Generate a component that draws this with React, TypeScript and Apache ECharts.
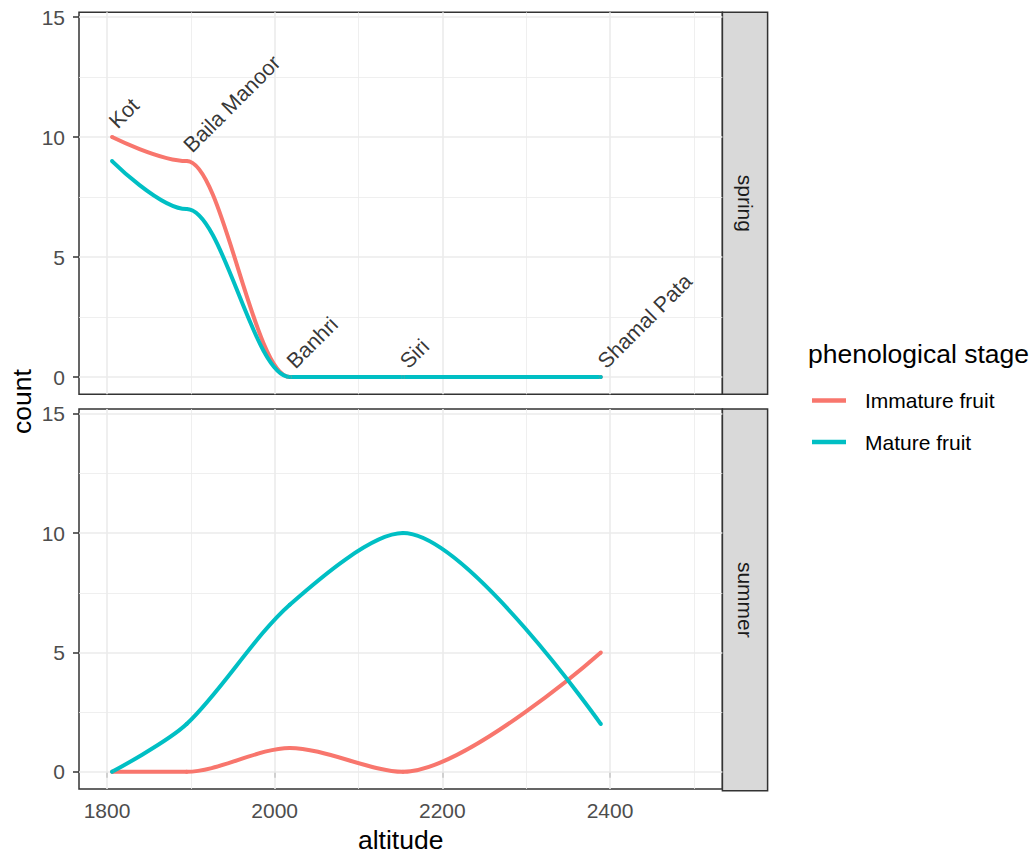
import React, { useEffect, useRef } from "react";
import * as echarts from "echarts";

const sites = ["Kot", "Baila Manoor", "Banhri", "Siri", "Shamal Pata"];
const altitude = [1806, 1895, 2018, 2153, 2389];
const springImmature = [10, 9, 0, 0, 0];
const springMature = [9, 7, 0, 0, 0];
const summerImmature = [0, 0, 1, 0, 5];
const summerMature = [0, 2, 7, 10, 2];
const xMajor = [1800, 2000, 2200, 2400];
const xMinor = [1900, 2100, 2300, 2500];
const yMajor = [0, 5, 10, 15];
const yMinor = [2.5, 7.5, 12.5];
const facets = ["spring", "summer"];
const stages = ["Immature fruit", "Mature fruit"];

const RED = "#F8766D";
const CYAN = "#00BFC4";
const FONT = "Liberation Sans, Arial, sans-serif";

const X_MIN = 1766.6;
const X_MAX = 2534;
const Y_MIN = -0.72;
const Y_MAX = 15.2;

const GRID_LEFT = 79;
const GRID_W = 643.4;
const PANELS = [
  { top: 12.3, height: 382 },
  { top: 409, height: 381.7 },
];
const STRIP_W = 45.2;

function pairs(ys: number[]) {
  return ys.map((y, i) => [altitude[i], y]);
}

function gridLines() {
  const major = { color: "#EBEBEB", width: 1.6, type: "solid" };
  const minor = { color: "#EBEBEB", width: 0.8, type: "solid" };
  return {
    silent: true,
    z: 1,
    symbol: ["none", "none"],
    label: { show: false },
    emphasis: { disabled: true },
    animation: false,
    data: [
      ...xMinor.map((v) => ({ xAxis: v, lineStyle: minor })),
      ...yMinor.map((v) => ({ yAxis: v, lineStyle: minor })),
      ...xMajor.map((v) => ({ xAxis: v, lineStyle: major })),
      ...yMajor.map((v) => ({ yAxis: v, lineStyle: major })),
    ],
  };
}

function lineSeries(
  name: string,
  color: string,
  ys: number[],
  idx: number,
  withGrid: boolean,
  smooth: number,
  monotone?: string
) {
  return {
    name,
    type: "line",
    xAxisIndex: idx,
    yAxisIndex: idx,
    data: pairs(ys),
    smooth,
    smoothMonotone: monotone,
    symbol: "circle",
    symbolSize: 4,
    showSymbol: true,
    z: 3,
    itemStyle: { color },
    lineStyle: { color, width: 4 },
    emphasis: { disabled: true },
    markLine: withGrid ? gridLines() : undefined,
  };
}

export default function App() {
  const ref = useRef<HTMLDivElement>(null);

  useEffect(() => {
    if (!ref.current) return;
    const chart = echarts.init(ref.current, null, { renderer: "svg" });

    const xAxes = PANELS.map((_, i) => ({
      type: "value",
      gridIndex: i,
      min: X_MIN,
      max: X_MAX,
      axisLine: { show: false },
      splitLine: { show: false },
      axisTick: {
        show: i === 1,
        length: 6,
        customValues: xMajor,
        lineStyle: { color: "#333333", width: 1.5 },
      },
      axisLabel: {
        show: i === 1,
        customValues: xMajor,
        formatter: (v: number) => String(v),
        margin: 11,
        fontSize: 21,
        color: "#4D4D4D",
        fontFamily: FONT,
      },
      name: i === 1 ? "altitude" : "",
      nameLocation: "middle",
      nameGap: 37,
      nameTextStyle: { fontSize: 26.5, color: "#000000", fontFamily: FONT },
    }));

    const yAxes = PANELS.map((_, i) => ({
      type: "value",
      gridIndex: i,
      min: Y_MIN,
      max: Y_MAX,
      axisLine: { show: false },
      splitLine: { show: false },
      axisTick: {
        show: true,
        length: 6,
        customValues: yMajor,
        lineStyle: { color: "#333333", width: 1.5 },
      },
      axisLabel: {
        customValues: yMajor,
        formatter: (v: number) => String(v),
        margin: 14,
        fontSize: 21,
        color: "#4D4D4D",
        fontFamily: FONT,
      },
    }));

    const grids = PANELS.map((p) => ({
      left: GRID_LEFT,
      top: p.top,
      width: GRID_W,
      height: p.height,
      show: true,
      backgroundColor: "#FFFFFF",
      borderColor: "#333333",
      borderWidth: 1.5,
      containLabel: false,
    }));

    const graphics: any[] = [];
    PANELS.forEach((p, i) => {
      graphics.push({
        type: "rect",
        shape: { x: GRID_LEFT + GRID_W, y: p.top, width: STRIP_W, height: p.height },
        style: { fill: "#D9D9D9", stroke: "#333333", lineWidth: 1.5 },
        silent: true,
      });
      graphics.push({
        type: "text",
        x: GRID_LEFT + GRID_W + STRIP_W / 2,
        y: p.top + p.height / 2,
        rotation: -Math.PI / 2,
        style: {
          text: facets[i],
          fontSize: 21,
          fill: "#1A1A1A",
          fontFamily: FONT,
          align: "center",
          verticalAlign: "middle",
        },
        silent: true,
      });
    });
    graphics.push({
      type: "text",
      x: 22,
      y: 401.5,
      rotation: Math.PI / 2,
      style: {
        text: "count",
        fontSize: 26.5,
        fill: "#000000",
        fontFamily: FONT,
        align: "center",
        verticalAlign: "middle",
      },
      silent: true,
    });
    graphics.push({
      type: "text",
      x: 808,
      y: 354,
      style: {
        text: "phenological stage",
        fontSize: 26.5,
        fill: "#000000",
        fontFamily: FONT,
        align: "left",
        verticalAlign: "middle",
      },
      silent: true,
    });

    const siteLabels = {
      type: "scatter",
      xAxisIndex: 0,
      yAxisIndex: 0,
      data: sites.map((s, i) => [altitude[i], springImmature[i], s]),
      symbolSize: 1,
      z: 4,
      itemStyle: { color: "transparent" },
      emphasis: { disabled: true },
      silent: true,
      label: {
        show: true,
        formatter: (p: any) => p.data[2],
        position: [9, -4],
        rotate: 45,
        align: "left",
        verticalAlign: "bottom",
        fontSize: 21.5,
        color: "#000000",
        fontFamily: FONT,
      },
    };

    chart.setOption({
      animation: false,
      textStyle: { fontFamily: FONT },
      grid: grids,
      xAxis: xAxes,
      yAxis: yAxes,
      legend: {
        data: stages.map((s) => ({ name: s, icon: "rect" })),
        orient: "vertical",
        left: 812,
        top: 390,
        padding: 0,
        itemWidth: 34,
        itemHeight: 4.5,
        itemGap: 20.5,
        selectedMode: false,
        textStyle: {
          fontSize: 21,
          color: "#000000",
          fontFamily: FONT,
          lineHeight: 21,
          padding: [0, 0, 0, 14],
        },
      },
      graphic: graphics,
      series: [
        lineSeries(stages[0], RED, springImmature, 0, true, 0.35, "x"),
        lineSeries(stages[1], CYAN, springMature, 0, false, 0.35, "x"),
        lineSeries(stages[0], RED, summerImmature, 1, true, 0.3),
        lineSeries(stages[1], CYAN, summerMature, 1, false, 0.3),
        siteLabels,
      ],
    });

    return () => chart.dispose();
  }, []);

  return (
    <div
      ref={ref}
      style={{ position: "absolute", left: 0, top: 0, width: 1035, height: 854, background: "#fff" }}
    />
  );
}
